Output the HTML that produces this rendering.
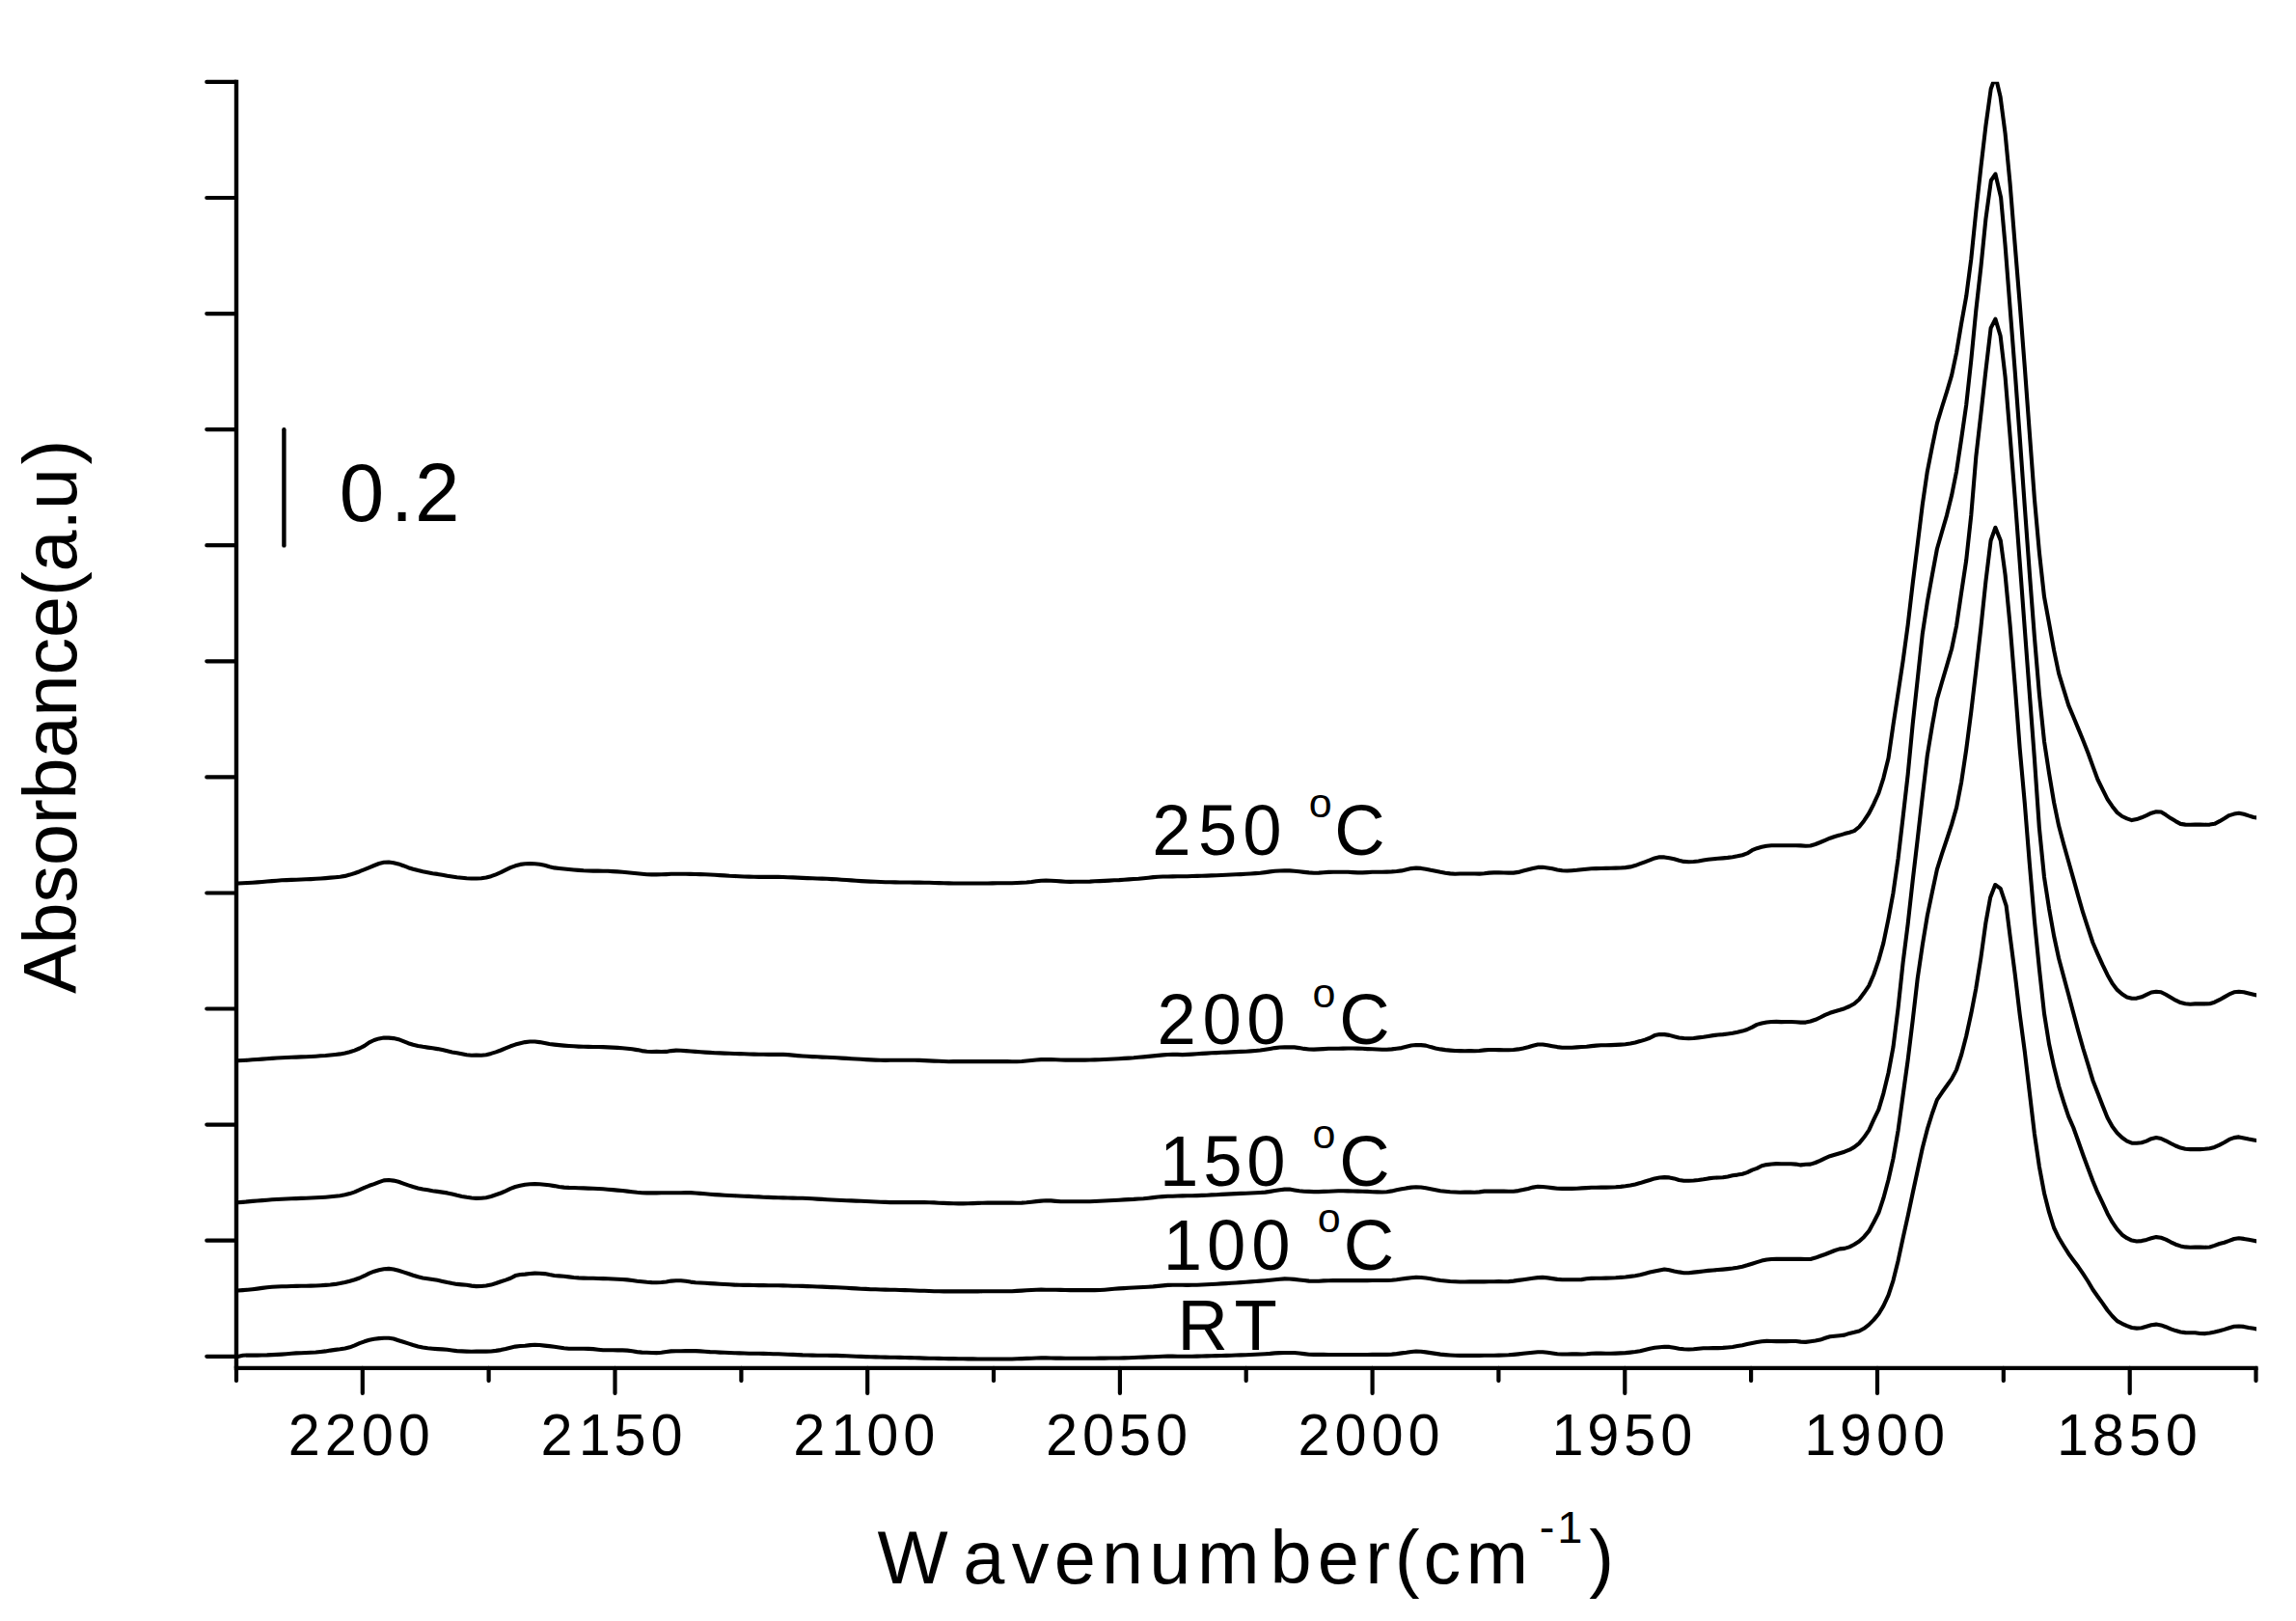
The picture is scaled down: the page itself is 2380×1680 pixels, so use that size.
<!DOCTYPE html>
<html><head><meta charset="utf-8"><title>FTIR spectra</title>
<style>html,body{margin:0;padding:0;background:#fff}svg{display:block}text{font-family:"Liberation Sans",sans-serif;fill:#000}</style>
</head><body>
<svg width="2380" height="1680" viewBox="0 0 2380 1680">
<rect width="2380" height="1680" fill="#fff"/>
<defs><clipPath id="plot"><rect x="245" y="84.8" width="2094" height="1335"/></clipPath></defs>
<g clip-path="url(#plot)" fill="none" stroke="#000" stroke-width="4.1" stroke-linejoin="round" stroke-linecap="butt">
<path d="M246.5 915.5L251.6 915.2L256.6 915.0L261.7 914.7L266.7 914.4L271.8 914.0L276.8 913.5L281.9 913.1L286.9 912.7L292.0 912.3L297.0 912.1L302.1 911.9L307.1 911.7L312.1 911.5L317.2 911.3L322.2 911.1L327.3 910.8L332.3 910.5L337.4 910.1L342.4 909.6L347.5 909.2L352.5 908.7L357.6 907.9L362.6 906.6L367.7 905.0L372.7 903.2L377.8 901.2L382.8 899.1L387.8 897.0L392.9 895.0L397.9 893.8L403.0 893.5L408.0 894.2L413.1 895.4L418.1 897.2L423.2 899.2L428.2 900.7L433.3 902.1L438.3 903.3L443.4 904.3L448.4 905.2L453.5 905.9L458.5 906.8L463.6 907.8L468.6 908.5L473.6 909.2L478.7 909.7L483.7 910.2L488.8 910.5L493.8 910.5L498.9 910.2L503.9 909.5L509.0 908.2L514.0 906.3L519.1 904.2L524.1 901.7L529.2 899.2L534.2 897.3L539.3 895.9L544.3 895.2L549.4 895.0L554.4 895.2L559.4 895.7L564.5 896.8L569.5 898.3L574.6 899.4L579.6 900.0L584.7 900.5L589.7 901.0L594.8 901.5L599.8 901.9L604.9 902.3L609.9 902.5L615.0 902.6L620.0 902.6L625.1 902.7L630.1 902.8L635.2 903.1L640.2 903.4L645.2 903.8L650.3 904.2L655.3 904.7L660.4 905.2L665.4 905.7L670.5 906.2L675.5 906.4L680.6 906.4L685.6 906.3L690.7 906.1L695.7 905.8L700.8 905.7L705.8 905.7L710.9 905.8L715.9 905.9L721.0 906.0L726.0 906.1L731.0 906.3L736.1 906.5L741.1 906.8L746.2 907.1L751.2 907.4L756.3 907.8L761.3 908.0L766.4 908.3L771.4 908.5L776.5 908.6L781.5 908.8L786.6 908.9L791.6 908.9L796.7 908.9L801.7 908.9L806.8 908.9L811.8 909.0L816.8 909.2L821.9 909.4L826.9 909.6L832.0 909.9L837.0 910.1L842.1 910.3L847.1 910.5L852.2 910.6L857.2 910.8L862.3 911.1L867.3 911.3L872.4 911.7L877.4 912.0L882.5 912.4L887.5 912.8L892.5 913.1L897.6 913.4L902.6 913.6L907.7 913.8L912.7 914.0L917.8 914.2L922.8 914.3L927.9 914.4L932.9 914.5L938.0 914.5L943.0 914.5L948.1 914.6L953.1 914.6L958.2 914.7L963.2 914.8L968.3 915.0L973.3 915.1L978.3 915.3L983.4 915.4L988.4 915.5L993.5 915.5L998.5 915.5L1003.6 915.5L1008.6 915.5L1013.7 915.5L1018.7 915.5L1023.8 915.5L1028.8 915.4L1033.9 915.3L1038.9 915.3L1044.0 915.3L1049.0 915.2L1054.1 915.0L1059.1 914.8L1064.1 914.5L1069.2 914.0L1074.2 913.3L1079.3 912.8L1084.3 912.6L1089.4 912.7L1094.4 913.0L1099.5 913.4L1104.5 913.8L1109.6 913.9L1114.6 913.8L1119.7 913.7L1124.7 913.7L1129.8 913.6L1134.8 913.3L1139.9 913.1L1144.9 912.9L1149.9 912.6L1155.0 912.3L1160.0 912.1L1165.1 911.7L1170.1 911.4L1175.2 911.0L1180.2 910.7L1185.3 910.2L1190.3 909.7L1195.4 909.1L1200.4 908.7L1205.5 908.5L1210.5 908.5L1215.6 908.4L1220.6 908.3L1225.7 908.3L1230.7 908.2L1235.7 908.0L1240.8 907.9L1245.8 907.7L1250.9 907.6L1255.9 907.4L1261.0 907.2L1266.0 907.0L1271.1 906.8L1276.1 906.5L1281.2 906.3L1286.2 906.1L1291.3 905.8L1296.3 905.5L1301.4 905.1L1306.4 904.7L1311.5 904.1L1316.5 903.4L1321.5 902.8L1326.6 902.5L1331.6 902.3L1336.7 902.4L1341.7 902.7L1346.8 903.3L1351.8 903.9L1356.9 904.4L1361.9 904.7L1367.0 904.6L1372.0 904.2L1377.1 903.9L1382.1 903.8L1387.2 903.8L1392.2 903.7L1397.2 903.8L1402.3 904.1L1407.3 904.4L1412.4 904.4L1417.4 904.1L1422.5 903.7L1427.5 903.7L1432.6 903.7L1437.6 903.6L1442.7 903.4L1447.7 903.0L1452.8 902.4L1457.8 901.3L1462.9 900.1L1467.9 899.6L1473.0 899.9L1478.0 900.7L1483.0 901.8L1488.1 902.8L1493.1 903.8L1498.2 904.7L1503.2 905.4L1508.3 905.7L1513.3 905.5L1518.4 905.5L1523.4 905.5L1528.5 905.5L1533.5 905.6L1538.6 905.3L1543.6 904.6L1548.7 904.4L1553.7 904.4L1558.8 904.5L1563.8 904.6L1568.8 904.6L1573.9 903.9L1578.9 902.6L1584.0 901.3L1589.0 900.0L1594.1 898.9L1599.1 898.8L1604.2 899.5L1609.2 900.3L1614.3 901.4L1619.3 902.3L1624.4 902.5L1629.4 902.2L1634.5 901.8L1639.5 901.2L1644.6 900.7L1649.6 900.3L1654.6 900.1L1659.7 900.0L1664.7 899.9L1669.8 899.8L1674.8 899.6L1679.9 899.5L1684.9 899.1L1690.0 898.4L1695.0 897.1L1700.1 895.2L1705.1 893.3L1710.2 891.4L1715.2 889.4L1720.3 888.2L1725.3 888.4L1730.4 889.3L1735.4 890.3L1740.4 891.7L1745.5 892.9L1750.5 893.2L1755.6 893.0L1760.6 892.5L1765.7 891.6L1770.7 890.8L1775.8 890.2L1780.8 889.8L1785.9 889.4L1790.9 888.9L1796.0 888.2L1801.0 887.3L1806.1 886.2L1811.1 884.4L1816.2 881.2L1821.2 879.2L1826.2 877.8L1831.3 876.7L1836.3 876.2L1841.4 876.3L1846.4 876.3L1851.5 876.2L1856.5 876.2L1861.6 876.3L1866.6 876.4L1871.7 876.7L1876.7 876.5L1881.8 875.0L1886.8 873.0L1891.9 870.8L1896.9 868.7L1901.9 867.0L1907.0 865.6L1912.0 864.1L1917.1 862.7L1922.1 861.1L1927.2 857.0L1932.2 850.7L1937.3 843.0L1942.3 833.2L1947.4 822.0L1952.4 806.3L1957.5 785.8L1962.5 751.3L1967.6 718.0L1972.6 685.0L1977.7 647.5L1982.7 604.8L1987.7 564.4L1992.8 523.1L1997.8 488.8L2002.9 462.9L2007.9 438.8L2013.0 422.0L2018.0 406.2L2023.1 388.9L2028.1 365.3L2033.2 334.9L2038.2 307.2L2043.3 268.2L2048.3 219.4L2053.4 173.2L2058.4 130.4L2063.7 92.2L2068.5 78.9L2073.6 100.4L2078.6 138.5L2083.6 190.6L2088.7 253.9L2093.7 315.0L2098.8 380.4L2103.8 448.4L2108.9 516.9L2113.9 572.4L2119.0 618.4L2124.0 645.6L2129.1 673.9L2134.1 697.9L2139.2 714.6L2144.2 730.9L2149.3 743.0L2154.3 755.1L2159.3 767.2L2164.4 780.3L2169.4 794.1L2174.5 808.0L2179.5 818.2L2184.6 828.3L2189.6 835.7L2194.7 842.1L2199.7 846.0L2204.8 848.4L2209.8 850.1L2214.9 849.1L2219.9 847.3L2225.0 845.1L2230.0 842.7L2235.1 841.2L2240.1 841.5L2245.1 844.6L2250.2 848.1L2255.2 851.1L2260.3 853.9L2265.3 854.6L2270.4 854.7L2275.4 854.6L2280.5 854.6L2285.5 854.7L2290.6 854.6L2295.6 853.8L2300.7 851.2L2305.7 848.3L2310.8 845.1L2315.8 843.6L2320.8 842.7L2325.9 843.7L2330.9 845.4L2336.0 847.0L2340.3 847.6"/>
<path d="M246.5 1099.3L251.6 1099.0L256.6 1098.7L261.7 1098.3L266.7 1098.0L271.8 1097.6L276.8 1097.3L281.9 1096.9L286.9 1096.5L292.0 1096.2L297.0 1096.0L302.1 1095.8L307.1 1095.6L312.1 1095.4L317.2 1095.2L322.2 1095.0L327.3 1094.7L332.3 1094.3L337.4 1094.0L342.4 1093.5L347.5 1093.0L352.5 1092.4L357.6 1091.5L362.6 1090.3L367.7 1088.6L372.7 1086.5L377.8 1083.9L382.8 1080.3L387.8 1078.0L392.9 1076.4L397.9 1075.6L403.0 1075.6L408.0 1076.1L413.1 1077.2L418.1 1079.1L423.2 1081.2L428.2 1082.8L433.3 1083.9L438.3 1084.8L443.4 1085.6L448.4 1086.3L453.5 1087.1L458.5 1088.1L463.6 1089.3L468.6 1090.4L473.6 1091.2L478.7 1092.2L483.7 1093.3L488.8 1093.7L493.8 1093.6L498.9 1093.8L503.9 1093.2L509.0 1091.9L514.0 1090.4L519.1 1088.5L524.1 1086.4L529.2 1084.3L534.2 1082.6L539.3 1081.2L544.3 1080.1L549.4 1079.5L554.4 1079.5L559.4 1080.1L564.5 1081.1L569.5 1082.0L574.6 1082.6L579.6 1083.1L584.7 1083.6L589.7 1084.0L594.8 1084.3L599.8 1084.6L604.9 1084.8L609.9 1084.9L615.0 1085.0L620.0 1085.0L625.1 1085.1L630.1 1085.4L635.2 1085.6L640.2 1085.9L645.2 1086.3L650.3 1086.7L655.3 1087.3L660.4 1088.1L665.4 1089.1L670.5 1089.8L675.5 1090.0L680.6 1089.9L685.6 1090.0L690.7 1089.9L695.7 1089.1L700.8 1088.6L705.8 1088.8L710.9 1089.1L715.9 1089.5L721.0 1089.9L726.0 1090.2L731.0 1090.6L736.1 1090.9L741.1 1091.2L746.2 1091.4L751.2 1091.6L756.3 1091.8L761.3 1092.0L766.4 1092.1L771.4 1092.3L776.5 1092.5L781.5 1092.6L786.6 1092.7L791.6 1092.8L796.7 1092.9L801.7 1092.9L806.8 1092.9L811.8 1092.9L816.8 1093.1L821.9 1093.6L826.9 1094.1L832.0 1094.5L837.0 1094.8L842.1 1095.1L847.1 1095.3L852.2 1095.6L857.2 1095.8L862.3 1096.0L867.3 1096.3L872.4 1096.6L877.4 1096.9L882.5 1097.2L887.5 1097.5L892.5 1097.8L897.6 1098.1L902.6 1098.4L907.7 1098.6L912.7 1098.8L917.8 1098.9L922.8 1098.8L927.9 1098.8L932.9 1098.8L938.0 1098.8L943.0 1098.8L948.1 1098.8L953.1 1098.9L958.2 1099.1L963.2 1099.4L968.3 1099.6L973.3 1099.8L978.3 1100.0L983.4 1100.2L988.4 1100.1L993.5 1100.1L998.5 1100.1L1003.6 1100.1L1008.6 1100.1L1013.7 1100.1L1018.7 1100.1L1023.8 1100.1L1028.8 1100.1L1033.9 1100.1L1038.9 1100.1L1044.0 1100.1L1049.0 1100.2L1054.1 1100.2L1059.1 1100.0L1064.1 1099.5L1069.2 1099.0L1074.2 1098.5L1079.3 1098.1L1084.3 1098.0L1089.4 1098.1L1094.4 1098.3L1099.5 1098.5L1104.5 1098.6L1109.6 1098.6L1114.6 1098.6L1119.7 1098.6L1124.7 1098.6L1129.8 1098.5L1134.8 1098.4L1139.9 1098.2L1144.9 1098.0L1149.9 1097.7L1155.0 1097.5L1160.0 1097.2L1165.1 1096.9L1170.1 1096.6L1175.2 1096.3L1180.2 1095.8L1185.3 1095.4L1190.3 1094.9L1195.4 1094.4L1200.4 1093.9L1205.5 1093.4L1210.5 1093.0L1215.6 1092.8L1220.6 1092.9L1225.7 1093.1L1230.7 1092.9L1235.7 1092.6L1240.8 1092.2L1245.8 1091.9L1250.9 1091.6L1255.9 1091.3L1261.0 1091.1L1266.0 1090.8L1271.1 1090.6L1276.1 1090.4L1281.2 1090.1L1286.2 1089.9L1291.3 1089.7L1296.3 1089.4L1301.4 1089.0L1306.4 1088.5L1311.5 1087.7L1316.5 1086.9L1321.5 1086.1L1326.6 1085.5L1331.6 1085.4L1336.7 1085.4L1341.7 1085.4L1346.8 1086.1L1351.8 1086.9L1356.9 1087.5L1361.9 1087.6L1367.0 1087.4L1372.0 1087.1L1377.1 1086.8L1382.1 1086.7L1387.2 1086.7L1392.2 1086.6L1397.2 1086.5L1402.3 1086.5L1407.3 1086.6L1412.4 1086.8L1417.4 1087.1L1422.5 1087.3L1427.5 1087.5L1432.6 1087.8L1437.6 1087.8L1442.7 1087.4L1447.7 1086.8L1452.8 1086.1L1457.8 1084.8L1462.9 1083.5L1467.9 1083.0L1473.0 1083.1L1478.0 1083.6L1483.0 1085.1L1488.1 1086.5L1493.1 1087.4L1498.2 1088.1L1503.2 1088.6L1508.3 1089.0L1513.3 1089.1L1518.4 1089.2L1523.4 1089.1L1528.5 1089.2L1533.5 1089.0L1538.6 1088.4L1543.6 1088.0L1548.7 1088.0L1553.7 1088.1L1558.8 1088.2L1563.8 1088.2L1568.8 1088.0L1573.9 1087.4L1578.9 1086.5L1584.0 1085.3L1589.0 1083.7L1594.1 1082.5L1599.1 1082.5L1604.2 1083.3L1609.2 1084.2L1614.3 1085.1L1619.3 1085.7L1624.4 1085.8L1629.4 1085.7L1634.5 1085.4L1639.5 1085.0L1644.6 1084.7L1649.6 1084.1L1654.6 1083.6L1659.7 1083.3L1664.7 1083.3L1669.8 1083.1L1674.8 1082.9L1679.9 1082.6L1684.9 1082.2L1690.0 1081.5L1695.0 1080.5L1700.1 1079.1L1705.1 1077.6L1710.2 1075.8L1715.2 1073.1L1720.3 1072.0L1725.3 1072.1L1730.4 1072.9L1735.4 1074.3L1740.4 1075.5L1745.5 1076.0L1750.5 1076.2L1755.6 1076.0L1760.6 1075.4L1765.7 1074.7L1770.7 1073.9L1775.8 1073.1L1780.8 1072.5L1785.9 1072.1L1790.9 1071.5L1796.0 1070.8L1801.0 1069.8L1806.1 1068.6L1811.1 1067.0L1816.2 1064.6L1821.2 1061.9L1826.2 1060.5L1831.3 1059.5L1836.3 1059.0L1841.4 1058.9L1846.4 1059.1L1851.5 1059.0L1856.5 1059.0L1861.6 1059.2L1866.6 1059.6L1871.7 1059.6L1876.7 1058.5L1881.8 1056.8L1886.8 1054.5L1891.9 1051.9L1896.9 1049.8L1901.9 1048.2L1907.0 1046.8L1912.0 1045.2L1917.1 1043.0L1922.1 1040.2L1927.2 1035.8L1932.2 1029.1L1937.3 1021.6L1942.3 1010.0L1947.4 995.1L1952.4 977.1L1957.5 952.4L1962.5 925.3L1967.6 889.6L1972.6 847.0L1977.7 802.6L1982.7 750.4L1987.7 704.4L1992.8 656.9L1997.8 624.2L2002.9 595.8L2007.9 569.0L2013.0 551.3L2018.0 534.1L2023.1 513.3L2028.1 488.3L2033.2 454.4L2038.2 419.8L2043.3 373.1L2048.3 321.8L2053.4 276.8L2058.4 227.0L2063.9 187.0L2068.4 180.3L2074.1 204.6L2078.6 254.6L2083.6 319.3L2088.7 384.8L2093.7 453.2L2098.8 524.9L2103.8 593.7L2108.9 660.1L2113.9 719.3L2119.0 768.2L2124.0 801.0L2129.1 831.7L2134.1 855.8L2139.2 875.0L2144.2 892.7L2149.3 910.9L2154.3 928.9L2159.3 946.2L2164.4 961.9L2169.4 977.0L2174.5 988.9L2179.5 999.9L2184.6 1010.4L2189.6 1019.2L2194.7 1025.9L2199.7 1030.3L2204.8 1033.5L2209.8 1034.8L2214.9 1034.6L2219.9 1033.3L2225.0 1030.9L2230.0 1028.5L2235.1 1027.7L2240.1 1028.2L2245.1 1030.8L2250.2 1033.8L2255.2 1036.7L2260.3 1039.1L2265.3 1040.3L2270.4 1040.7L2275.4 1040.4L2280.5 1040.3L2285.5 1040.4L2290.6 1040.2L2295.6 1038.7L2300.7 1036.2L2305.7 1033.4L2310.8 1030.4L2315.8 1028.3L2320.8 1027.7L2325.9 1028.2L2330.9 1029.4L2336.0 1030.7L2341.0 1031.9L2342.1 1032.1"/>
<path d="M246.5 1246.3L251.6 1245.9L256.6 1245.4L261.7 1244.9L266.7 1244.5L271.8 1244.1L276.8 1243.7L281.9 1243.3L286.9 1243.0L292.0 1242.7L297.0 1242.5L302.1 1242.3L307.1 1242.1L312.1 1241.9L317.2 1241.7L322.2 1241.5L327.3 1241.2L332.3 1241.0L337.4 1240.7L342.4 1240.3L347.5 1239.8L352.5 1239.2L357.6 1238.3L362.6 1237.1L367.7 1235.4L372.7 1233.2L377.8 1230.8L382.8 1228.8L387.8 1227.1L392.9 1225.1L397.9 1223.4L403.0 1223.0L408.0 1223.6L413.1 1224.8L418.1 1226.6L423.2 1228.4L428.2 1230.0L433.3 1231.4L438.3 1232.5L443.4 1233.3L448.4 1234.2L453.5 1234.9L458.5 1235.6L463.6 1236.4L468.6 1237.5L473.6 1238.8L478.7 1239.9L483.7 1240.8L488.8 1241.5L493.8 1241.9L498.9 1241.8L503.9 1241.2L509.0 1240.0L514.0 1238.3L519.1 1236.5L524.1 1234.3L529.2 1231.9L534.2 1230.0L539.3 1228.7L544.3 1227.7L549.4 1227.2L554.4 1227.1L559.4 1227.3L564.5 1227.7L569.5 1228.3L574.6 1229.1L579.6 1230.0L584.7 1230.6L589.7 1230.9L594.8 1231.0L599.8 1231.2L604.9 1231.4L609.9 1231.6L615.0 1231.7L620.0 1232.0L625.1 1232.3L630.1 1232.7L635.2 1233.1L640.2 1233.6L645.2 1234.0L650.3 1234.6L655.3 1235.2L660.4 1235.8L665.4 1236.2L670.5 1236.4L675.5 1236.4L680.6 1236.4L685.6 1236.3L690.7 1236.3L695.7 1236.3L700.8 1236.2L705.8 1236.2L710.9 1236.1L715.9 1236.1L721.0 1236.5L726.0 1236.9L731.0 1237.3L736.1 1237.7L741.1 1238.1L746.2 1238.4L751.2 1238.7L756.3 1239.0L761.3 1239.2L766.4 1239.5L771.4 1239.7L776.5 1239.9L781.5 1240.2L786.6 1240.4L791.6 1240.7L796.7 1240.9L801.7 1241.1L806.8 1241.2L811.8 1241.4L816.8 1241.5L821.9 1241.6L826.9 1241.7L832.0 1241.8L837.0 1242.0L842.1 1242.3L847.1 1242.6L852.2 1242.9L857.2 1243.2L862.3 1243.5L867.3 1243.8L872.4 1244.0L877.4 1244.2L882.5 1244.4L887.5 1244.6L892.5 1244.8L897.6 1245.0L902.6 1245.2L907.7 1245.5L912.7 1245.7L917.8 1245.9L922.8 1246.1L927.9 1246.1L932.9 1246.1L938.0 1246.1L943.0 1246.1L948.1 1246.1L953.1 1246.0L958.2 1246.1L963.2 1246.2L968.3 1246.4L973.3 1246.7L978.3 1246.9L983.4 1247.1L988.4 1247.2L993.5 1247.4L998.5 1247.4L1003.6 1247.3L1008.6 1247.1L1013.7 1246.9L1018.7 1246.7L1023.8 1246.6L1028.8 1246.6L1033.9 1246.6L1038.9 1246.6L1044.0 1246.6L1049.0 1246.6L1054.1 1246.7L1059.1 1246.6L1064.1 1246.3L1069.2 1245.7L1074.2 1245.1L1079.3 1244.6L1084.3 1244.3L1089.4 1244.4L1094.4 1244.9L1099.5 1245.3L1104.5 1245.3L1109.6 1245.3L1114.6 1245.3L1119.7 1245.3L1124.7 1245.3L1129.8 1245.2L1134.8 1245.0L1139.9 1244.8L1144.9 1244.5L1149.9 1244.3L1155.0 1244.0L1160.0 1243.7L1165.1 1243.4L1170.1 1243.1L1175.2 1242.9L1180.2 1242.5L1185.3 1242.2L1190.3 1241.7L1195.4 1241.1L1200.4 1240.5L1205.5 1240.1L1210.5 1239.8L1215.6 1239.7L1220.6 1239.5L1225.7 1239.4L1230.7 1239.3L1235.7 1239.2L1240.8 1239.1L1245.8 1238.9L1250.9 1238.7L1255.9 1238.4L1261.0 1238.2L1266.0 1237.9L1271.1 1237.6L1276.1 1237.4L1281.2 1237.1L1286.2 1236.9L1291.3 1236.7L1296.3 1236.5L1301.4 1236.3L1306.4 1236.0L1311.5 1235.6L1316.5 1234.9L1321.5 1234.1L1326.6 1233.2L1331.6 1232.6L1336.7 1232.6L1341.7 1233.4L1346.8 1234.2L1351.8 1234.7L1356.9 1234.9L1361.9 1235.1L1367.0 1235.1L1372.0 1234.9L1377.1 1234.7L1382.1 1234.5L1387.2 1234.3L1392.2 1234.3L1397.2 1234.4L1402.3 1234.5L1407.3 1234.6L1412.4 1234.8L1417.4 1234.9L1422.5 1235.2L1427.5 1235.4L1432.6 1235.5L1437.6 1235.2L1442.7 1234.4L1447.7 1233.3L1452.8 1232.3L1457.8 1231.4L1462.9 1230.6L1467.9 1230.3L1473.0 1230.5L1478.0 1231.3L1483.0 1232.3L1488.1 1233.3L1493.1 1234.2L1498.2 1234.7L1503.2 1235.2L1508.3 1235.5L1513.3 1235.7L1518.4 1235.6L1523.4 1235.6L1528.5 1235.7L1533.5 1235.4L1538.6 1234.6L1543.6 1234.5L1548.7 1234.6L1553.7 1234.6L1558.8 1234.6L1563.8 1234.7L1568.8 1234.7L1573.9 1234.1L1578.9 1233.1L1584.0 1231.9L1589.0 1230.6L1594.1 1229.8L1599.1 1230.0L1604.2 1230.5L1609.2 1231.1L1614.3 1231.8L1619.3 1231.9L1624.4 1231.8L1629.4 1231.9L1634.5 1231.8L1639.5 1231.4L1644.6 1231.1L1649.6 1230.8L1654.6 1230.7L1659.7 1230.6L1664.7 1230.6L1669.8 1230.5L1674.8 1230.3L1679.9 1229.9L1684.9 1229.3L1690.0 1228.5L1695.0 1227.4L1700.1 1226.1L1705.1 1224.5L1710.2 1223.0L1715.2 1221.4L1720.3 1220.5L1725.3 1220.1L1730.4 1220.4L1735.4 1221.4L1740.4 1223.0L1745.5 1223.8L1750.5 1223.8L1755.6 1223.5L1760.6 1223.0L1765.7 1222.3L1770.7 1221.4L1775.8 1220.7L1780.8 1220.5L1785.9 1220.3L1790.9 1219.4L1796.0 1218.3L1801.0 1217.6L1806.1 1216.7L1811.1 1215.1L1816.2 1212.6L1821.2 1210.9L1826.2 1208.3L1831.3 1207.1L1836.3 1206.5L1841.4 1206.1L1846.4 1206.2L1851.5 1206.2L1856.5 1206.2L1861.6 1206.6L1866.6 1207.4L1871.7 1206.7L1876.7 1206.6L1881.8 1205.0L1886.8 1202.8L1891.9 1200.3L1896.9 1198.2L1901.9 1196.7L1907.0 1195.2L1912.0 1193.7L1917.1 1191.7L1922.1 1188.9L1927.2 1184.9L1932.2 1178.8L1937.3 1171.4L1942.3 1160.4L1947.4 1149.8L1952.4 1133.1L1957.5 1112.0L1962.5 1085.2L1967.6 1044.5L1972.6 997.6L1977.7 957.5L1982.7 912.5L1987.7 869.9L1992.8 825.2L1997.8 783.0L2002.9 752.2L2007.9 724.7L2013.0 707.0L2018.0 690.2L2023.1 672.5L2028.1 648.3L2033.2 613.7L2038.2 580.6L2043.3 533.7L2048.3 473.6L2053.4 429.1L2058.4 384.3L2063.6 340.2L2068.4 330.6L2073.6 348.0L2078.6 390.7L2083.6 451.8L2088.7 516.4L2093.7 582.8L2098.8 651.6L2103.8 718.7L2108.9 786.1L2113.9 858.3L2119.0 909.0L2124.0 941.3L2129.1 970.0L2134.1 993.2L2139.2 1012.3L2144.2 1030.8L2149.3 1050.0L2154.3 1068.8L2159.3 1086.5L2164.4 1103.1L2169.4 1119.7L2174.5 1132.7L2179.5 1145.7L2184.6 1158.4L2189.6 1167.6L2194.7 1174.3L2199.7 1179.0L2204.8 1182.6L2209.8 1184.6L2214.9 1184.7L2219.9 1184.2L2225.0 1182.6L2230.0 1180.2L2235.1 1179.1L2240.1 1180.0L2245.1 1182.3L2250.2 1185.0L2255.2 1187.5L2260.3 1189.6L2265.3 1190.8L2270.4 1191.1L2275.4 1191.0L2280.5 1191.1L2285.5 1190.8L2290.6 1190.2L2295.6 1188.9L2300.7 1186.6L2305.7 1184.0L2310.8 1180.9L2315.8 1179.1L2320.8 1178.4L2325.9 1179.5L2330.9 1180.6L2336.0 1181.5L2341.0 1182.3L2342.1 1182.5"/>
<path d="M246.5 1337.5L251.6 1337.1L256.6 1336.7L261.7 1336.2L266.7 1335.6L271.8 1334.9L276.8 1334.2L281.9 1333.8L286.9 1333.5L292.0 1333.3L297.0 1333.2L302.1 1333.0L307.1 1332.9L312.1 1332.8L317.2 1332.7L322.2 1332.6L327.3 1332.5L332.3 1332.2L337.4 1331.9L342.4 1331.5L347.5 1330.9L352.5 1330.1L357.6 1329.0L362.6 1327.7L367.7 1326.2L372.7 1324.5L377.8 1322.2L382.8 1319.6L387.8 1317.7L392.9 1316.3L397.9 1315.3L403.0 1314.9L408.0 1315.5L413.1 1316.8L418.1 1318.4L423.2 1320.0L428.2 1321.7L433.3 1323.3L438.3 1324.5L443.4 1325.3L448.4 1326.0L453.5 1326.8L458.5 1327.9L463.6 1329.1L468.6 1330.1L473.6 1330.9L478.7 1331.4L483.7 1331.8L488.8 1332.6L493.8 1333.1L498.9 1333.0L503.9 1332.5L509.0 1331.6L514.0 1330.0L519.1 1328.2L524.1 1326.6L529.2 1324.8L534.2 1322.1L539.3 1321.0L544.3 1320.6L549.4 1320.0L554.4 1319.6L559.4 1319.7L564.5 1320.1L569.5 1321.1L574.6 1322.0L579.6 1322.4L584.7 1322.7L589.7 1323.4L594.8 1324.0L599.8 1324.4L604.9 1324.6L609.9 1324.7L615.0 1324.8L620.0 1325.0L625.1 1325.1L630.1 1325.3L635.2 1325.5L640.2 1325.7L645.2 1326.0L650.3 1326.4L655.3 1327.0L660.4 1327.7L665.4 1328.2L670.5 1328.8L675.5 1329.1L680.6 1329.2L685.6 1329.0L690.7 1328.5L695.7 1327.6L700.8 1327.3L705.8 1327.3L710.9 1327.8L715.9 1328.6L721.0 1329.2L726.0 1329.5L731.0 1329.8L736.1 1330.1L741.1 1330.4L746.2 1330.7L751.2 1331.0L756.3 1331.3L761.3 1331.6L766.4 1331.8L771.4 1331.9L776.5 1331.9L781.5 1332.0L786.6 1332.1L791.6 1332.1L796.7 1332.2L801.7 1332.2L806.8 1332.3L811.8 1332.4L816.8 1332.5L821.9 1332.7L826.9 1332.8L832.0 1332.9L837.0 1333.1L842.1 1333.3L847.1 1333.5L852.2 1333.6L857.2 1333.9L862.3 1334.1L867.3 1334.3L872.4 1334.5L877.4 1334.8L882.5 1335.1L887.5 1335.4L892.5 1335.7L897.6 1335.9L902.6 1336.2L907.7 1336.3L912.7 1336.5L917.8 1336.6L922.8 1336.7L927.9 1336.8L932.9 1337.0L938.0 1337.1L943.0 1337.3L948.1 1337.5L953.1 1337.7L958.2 1337.8L963.2 1338.0L968.3 1338.2L973.3 1338.3L978.3 1338.4L983.4 1338.4L988.4 1338.4L993.5 1338.4L998.5 1338.4L1003.6 1338.4L1008.6 1338.4L1013.7 1338.4L1018.7 1338.3L1023.8 1338.3L1028.8 1338.3L1033.9 1338.2L1038.9 1338.2L1044.0 1338.2L1049.0 1338.2L1054.1 1337.9L1059.1 1337.6L1064.1 1337.3L1069.2 1337.0L1074.2 1336.7L1079.3 1336.6L1084.3 1336.7L1089.4 1336.8L1094.4 1336.8L1099.5 1336.9L1104.5 1337.0L1109.6 1337.1L1114.6 1337.1L1119.7 1337.1L1124.7 1337.1L1129.8 1337.1L1134.8 1337.1L1139.9 1337.0L1144.9 1336.7L1149.9 1336.3L1155.0 1335.8L1160.0 1335.4L1165.1 1335.1L1170.1 1334.8L1175.2 1334.5L1180.2 1334.3L1185.3 1334.0L1190.3 1333.7L1195.4 1333.4L1200.4 1332.9L1205.5 1332.4L1210.5 1331.9L1215.6 1331.7L1220.6 1331.8L1225.7 1331.8L1230.7 1331.9L1235.7 1331.8L1240.8 1331.7L1245.8 1331.5L1250.9 1331.3L1255.9 1331.0L1261.0 1330.7L1266.0 1330.4L1271.1 1330.1L1276.1 1329.8L1281.2 1329.5L1286.2 1329.1L1291.3 1328.8L1296.3 1328.4L1301.4 1328.0L1306.4 1327.6L1311.5 1327.2L1316.5 1326.7L1321.5 1326.2L1326.6 1325.7L1331.6 1325.4L1336.7 1325.5L1341.7 1325.9L1346.8 1326.5L1351.8 1327.0L1356.9 1327.6L1361.9 1327.8L1367.0 1327.7L1372.0 1327.4L1377.1 1327.2L1382.1 1327.1L1387.2 1327.1L1392.2 1327.1L1397.2 1327.1L1402.3 1327.1L1407.3 1327.1L1412.4 1327.1L1417.4 1327.1L1422.5 1327.0L1427.5 1327.0L1432.6 1327.0L1437.6 1327.0L1442.7 1326.7L1447.7 1326.2L1452.8 1325.5L1457.8 1324.9L1462.9 1324.3L1467.9 1323.9L1473.0 1324.0L1478.0 1324.5L1483.0 1325.2L1488.1 1326.2L1493.1 1327.0L1498.2 1327.5L1503.2 1328.0L1508.3 1328.3L1513.3 1328.5L1518.4 1328.5L1523.4 1328.4L1528.5 1328.4L1533.5 1328.4L1538.6 1328.4L1543.6 1328.3L1548.7 1328.2L1553.7 1328.1L1558.8 1328.2L1563.8 1328.1L1568.8 1327.6L1573.9 1326.9L1578.9 1326.2L1584.0 1325.5L1589.0 1324.8L1594.1 1324.1L1599.1 1323.9L1604.2 1324.4L1609.2 1325.1L1614.3 1325.9L1619.3 1326.3L1624.4 1326.3L1629.4 1326.2L1634.5 1326.3L1639.5 1326.1L1644.6 1325.3L1649.6 1324.9L1654.6 1324.7L1659.7 1324.7L1664.7 1324.6L1669.8 1324.5L1674.8 1324.3L1679.9 1323.9L1684.9 1323.5L1690.0 1322.9L1695.0 1322.3L1700.1 1321.3L1705.1 1320.0L1710.2 1318.6L1715.2 1317.6L1720.3 1316.5L1725.3 1315.5L1730.4 1316.2L1735.4 1317.4L1740.4 1318.4L1745.5 1319.2L1750.5 1319.2L1755.6 1318.6L1760.6 1318.1L1765.7 1317.5L1770.7 1316.9L1775.8 1316.5L1780.8 1316.0L1785.9 1315.6L1790.9 1315.1L1796.0 1314.5L1801.0 1313.7L1806.1 1312.7L1811.1 1311.3L1816.2 1309.7L1821.2 1308.1L1826.2 1306.6L1831.3 1305.5L1836.3 1305.0L1841.4 1304.8L1846.4 1304.9L1851.5 1304.9L1856.5 1304.9L1861.6 1304.9L1866.6 1304.9L1871.7 1305.0L1876.7 1305.0L1881.8 1303.6L1886.8 1301.8L1891.9 1300.0L1896.9 1298.0L1901.9 1296.0L1907.0 1294.4L1912.0 1293.9L1917.1 1292.4L1922.1 1289.8L1927.2 1286.6L1932.2 1281.9L1937.3 1275.9L1942.3 1266.7L1947.4 1256.8L1952.4 1241.7L1957.5 1222.7L1962.5 1200.6L1967.6 1171.3L1972.6 1135.1L1977.7 1098.4L1982.7 1057.4L1987.7 1014.3L1992.8 979.5L1997.8 949.2L2002.9 924.6L2007.9 901.1L2013.0 884.9L2018.0 870.0L2023.1 854.4L2028.1 836.9L2033.2 810.3L2038.2 776.9L2043.3 737.6L2048.3 694.9L2053.4 650.3L2058.4 602.6L2063.6 560.3L2068.4 546.8L2073.8 560.3L2078.6 595.8L2083.6 648.3L2088.7 710.4L2093.7 775.8L2098.8 832.4L2103.8 894.8L2108.9 954.1L2113.9 1004.0L2119.0 1050.4L2124.0 1081.8L2129.1 1105.6L2134.1 1125.6L2139.2 1142.1L2144.2 1157.1L2149.3 1168.8L2154.3 1182.7L2159.3 1197.0L2164.4 1210.8L2169.4 1224.0L2174.5 1236.2L2179.5 1246.7L2184.6 1257.7L2189.6 1266.7L2194.7 1274.2L2199.7 1279.7L2204.8 1283.2L2209.8 1285.6L2214.9 1286.5L2219.9 1286.1L2225.0 1284.9L2230.0 1283.3L2235.1 1282.1L2240.1 1282.8L2245.1 1284.6L2250.2 1287.3L2255.2 1289.7L2260.3 1291.4L2265.3 1292.4L2270.4 1292.7L2275.4 1292.6L2280.5 1292.6L2285.5 1292.8L2290.6 1292.5L2295.6 1290.9L2300.7 1289.0L2305.7 1287.7L2310.8 1285.9L2315.8 1284.0L2320.8 1283.2L2325.9 1283.9L2330.9 1284.8L2336.0 1285.8L2340.8 1286.8"/>
<path d="M246.5 1405.9L251.6 1404.8L256.6 1404.5L261.7 1404.6L266.7 1404.6L271.8 1404.5L276.8 1404.4L281.9 1404.1L286.9 1403.9L292.0 1403.6L297.0 1403.2L302.1 1402.8L307.1 1402.4L312.1 1402.2L317.2 1402.0L322.2 1401.8L327.3 1401.5L332.3 1401.0L337.4 1400.4L342.4 1399.6L347.5 1398.9L352.5 1398.3L357.6 1397.5L362.6 1396.3L367.7 1394.4L372.7 1392.2L377.8 1390.3L382.8 1388.7L387.8 1387.7L392.9 1387.1L397.9 1386.7L403.0 1386.7L408.0 1387.5L413.1 1389.2L418.1 1390.8L423.2 1392.4L428.2 1394.0L433.3 1395.4L438.3 1396.5L443.4 1397.2L448.4 1397.7L453.5 1398.1L458.5 1398.4L463.6 1398.8L468.6 1399.5L473.6 1400.1L478.7 1400.4L483.7 1400.6L488.8 1400.7L493.8 1400.6L498.9 1400.5L503.9 1400.6L509.0 1400.5L514.0 1399.9L519.1 1399.1L524.1 1398.0L529.2 1396.7L534.2 1395.6L539.3 1395.0L544.3 1394.8L549.4 1394.1L554.4 1393.7L559.4 1394.0L564.5 1394.6L569.5 1395.1L574.6 1395.8L579.6 1396.5L584.7 1397.2L589.7 1397.7L594.8 1397.8L599.8 1397.8L604.9 1397.8L609.9 1397.9L615.0 1398.1L620.0 1398.7L625.1 1399.2L630.1 1399.3L635.2 1399.3L640.2 1399.4L645.2 1399.4L650.3 1399.6L655.3 1400.3L660.4 1401.1L665.4 1401.6L670.5 1401.8L675.5 1402.0L680.6 1402.1L685.6 1401.8L690.7 1401.0L695.7 1400.4L700.8 1400.2L705.8 1400.2L710.9 1400.1L715.9 1400.0L721.0 1400.1L726.0 1400.4L731.0 1400.7L736.1 1401.1L741.1 1401.3L746.2 1401.6L751.2 1401.8L756.3 1402.0L761.3 1402.2L766.4 1402.4L771.4 1402.5L776.5 1402.7L781.5 1402.8L786.6 1402.8L791.6 1402.9L796.7 1403.0L801.7 1403.2L806.8 1403.3L811.8 1403.5L816.8 1403.7L821.9 1403.9L826.9 1404.1L832.0 1404.4L837.0 1404.5L842.1 1404.6L847.1 1404.7L852.2 1404.8L857.2 1404.8L862.3 1404.9L867.3 1404.9L872.4 1405.1L877.4 1405.2L882.5 1405.5L887.5 1405.7L892.5 1405.9L897.6 1406.1L902.6 1406.3L907.7 1406.4L912.7 1406.5L917.8 1406.6L922.8 1406.7L927.9 1406.8L932.9 1406.9L938.0 1407.0L943.0 1407.1L948.1 1407.3L953.1 1407.4L958.2 1407.6L963.2 1407.7L968.3 1407.8L973.3 1407.9L978.3 1408.0L983.4 1408.1L988.4 1408.1L993.5 1408.2L998.5 1408.3L1003.6 1408.4L1008.6 1408.4L1013.7 1408.5L1018.7 1408.5L1023.8 1408.5L1028.8 1408.5L1033.9 1408.5L1038.9 1408.5L1044.0 1408.5L1049.0 1408.5L1054.1 1408.3L1059.1 1408.1L1064.1 1407.9L1069.2 1407.7L1074.2 1407.5L1079.3 1407.4L1084.3 1407.4L1089.4 1407.5L1094.4 1407.6L1099.5 1407.6L1104.5 1407.7L1109.6 1407.7L1114.6 1407.8L1119.7 1407.8L1124.7 1407.8L1129.8 1407.7L1134.8 1407.7L1139.9 1407.6L1144.9 1407.6L1149.9 1407.5L1155.0 1407.5L1160.0 1407.5L1165.1 1407.4L1170.1 1407.2L1175.2 1407.0L1180.2 1406.8L1185.3 1406.6L1190.3 1406.4L1195.4 1406.2L1200.4 1406.0L1205.5 1405.7L1210.5 1405.6L1215.6 1405.6L1220.6 1405.7L1225.7 1405.7L1230.7 1405.7L1235.7 1405.7L1240.8 1405.6L1245.8 1405.5L1250.9 1405.4L1255.9 1405.3L1261.0 1405.1L1266.0 1405.0L1271.1 1404.9L1276.1 1404.7L1281.2 1404.5L1286.2 1404.4L1291.3 1404.2L1296.3 1404.0L1301.4 1403.8L1306.4 1403.5L1311.5 1403.2L1316.5 1402.9L1321.5 1402.4L1326.6 1402.1L1331.6 1402.0L1336.7 1402.0L1341.7 1402.0L1346.8 1402.5L1351.8 1403.1L1356.9 1403.7L1361.9 1403.9L1367.0 1403.9L1372.0 1403.9L1377.1 1404.0L1382.1 1404.0L1387.2 1404.0L1392.2 1404.0L1397.2 1404.0L1402.3 1404.0L1407.3 1404.0L1412.4 1404.0L1417.4 1404.0L1422.5 1403.9L1427.5 1403.9L1432.6 1403.9L1437.6 1403.9L1442.7 1403.6L1447.7 1403.1L1452.8 1402.4L1457.8 1401.8L1462.9 1401.0L1467.9 1400.5L1473.0 1400.7L1478.0 1401.4L1483.0 1402.1L1488.1 1402.9L1493.1 1403.6L1498.2 1404.1L1503.2 1404.5L1508.3 1404.8L1513.3 1404.9L1518.4 1404.9L1523.4 1404.9L1528.5 1404.9L1533.5 1404.9L1538.6 1404.8L1543.6 1404.8L1548.7 1404.7L1553.7 1404.6L1558.8 1404.5L1563.8 1404.3L1568.8 1403.9L1573.9 1403.4L1578.9 1402.8L1584.0 1402.3L1589.0 1401.8L1594.1 1401.2L1599.1 1401.3L1604.2 1401.8L1609.2 1402.5L1614.3 1403.2L1619.3 1403.5L1624.4 1403.5L1629.4 1403.4L1634.5 1403.4L1639.5 1403.5L1644.6 1403.2L1649.6 1402.7L1654.6 1402.6L1659.7 1402.6L1664.7 1402.7L1669.8 1402.7L1674.8 1402.6L1679.9 1402.4L1684.9 1402.1L1690.0 1401.6L1695.0 1401.0L1700.1 1400.2L1705.1 1399.0L1710.2 1397.7L1715.2 1396.8L1720.3 1396.2L1725.3 1395.8L1730.4 1395.9L1735.4 1396.8L1740.4 1397.7L1745.5 1398.3L1750.5 1398.5L1755.6 1398.2L1760.6 1397.7L1765.7 1397.3L1770.7 1397.2L1775.8 1397.1L1780.8 1397.1L1785.9 1396.9L1790.9 1396.5L1796.0 1396.0L1801.0 1395.1L1806.1 1394.2L1811.1 1393.1L1816.2 1392.0L1821.2 1391.0L1826.2 1390.2L1831.3 1389.9L1836.3 1390.0L1841.4 1390.1L1846.4 1390.1L1851.5 1390.1L1856.5 1390.0L1861.6 1390.0L1866.6 1390.6L1871.7 1390.9L1876.7 1390.2L1881.8 1389.5L1886.8 1388.6L1891.9 1386.8L1896.9 1385.3L1901.9 1384.7L1907.0 1384.2L1912.0 1383.6L1917.1 1381.9L1922.1 1380.8L1927.2 1379.5L1932.2 1376.8L1937.3 1372.9L1942.3 1367.9L1947.4 1361.8L1952.4 1353.4L1957.5 1342.4L1962.5 1327.1L1967.6 1306.4L1972.6 1283.1L1977.7 1260.2L1982.7 1236.5L1987.7 1213.2L1992.8 1189.8L1997.8 1170.4L2002.9 1154.0L2007.9 1139.9L2013.0 1132.3L2018.0 1125.3L2023.1 1118.1L2028.1 1108.6L2033.2 1093.0L2038.2 1073.7L2043.3 1050.3L2048.3 1024.3L2053.4 992.5L2058.4 956.4L2063.2 929.9L2068.2 917.0L2073.7 920.9L2079.6 938.6L2083.6 970.2L2088.7 1009.4L2093.7 1051.4L2098.8 1089.8L2103.8 1132.0L2108.9 1175.1L2113.9 1209.1L2119.0 1236.4L2124.0 1256.2L2129.1 1272.5L2134.1 1282.8L2139.2 1291.2L2144.2 1299.2L2149.3 1306.2L2154.3 1312.8L2159.3 1320.2L2164.4 1328.0L2169.4 1336.5L2174.5 1343.7L2179.5 1350.6L2184.6 1358.0L2189.6 1364.0L2194.7 1369.1L2199.7 1371.8L2204.8 1374.1L2209.8 1376.0L2214.9 1376.6L2219.9 1376.3L2225.0 1374.7L2230.0 1373.3L2235.1 1372.6L2240.1 1373.4L2245.1 1375.2L2250.2 1377.4L2255.2 1379.1L2260.3 1380.5L2265.3 1381.1L2270.4 1381.2L2275.4 1381.2L2280.5 1382.0L2285.5 1382.1L2290.6 1381.5L2295.6 1380.6L2300.7 1379.3L2305.7 1377.9L2310.8 1376.2L2315.8 1374.8L2320.8 1374.5L2325.9 1374.9L2330.9 1376.0L2336.0 1376.8L2340.8 1377.6"/>
</g>
<g stroke="#000" stroke-width="4.4" fill="none" stroke-linecap="butt">
<path d="M245.0 82.8V1417.9"/>
<path d="M242.8 1417.9H2340.5"/>
</g>
<g stroke="#000" stroke-width="4.2" fill="none" stroke-linecap="round">
<path d="M214.3 84.9H245.0M214.3 205.0H245.0M214.3 325.1H245.0M214.3 445.1H245.0M214.3 565.2H245.0M214.3 685.3H245.0M214.3 805.4H245.0M214.3 925.5H245.0M214.3 1045.5H245.0M214.3 1165.6H245.0M214.3 1285.7H245.0M214.3 1405.8H245.0M245.0 1417.9V1430.9M375.8 1417.9V1444.0M506.6 1417.9V1430.9M637.5 1417.9V1444.0M768.4 1417.9V1430.9M899.2 1417.9V1444.0M1030.0 1417.9V1430.9M1160.9 1417.9V1444.0M1291.7 1417.9V1430.9M1422.6 1417.9V1444.0M1553.4 1417.9V1430.9M1684.3 1417.9V1444.0M1815.1 1417.9V1430.9M1946.0 1417.9V1444.0M2076.8 1417.9V1430.9M2207.7 1417.9V1444.0M2338.5 1417.9V1430.9"/>
</g>
<path d="M294.4 445.2V565.4" stroke="#000" stroke-width="4.4" stroke-linecap="round" fill="none"/>
<text transform="translate(0 1508.0) scale(1 1.030)" x="298.8 336.8 374.8 412.8" y="0" font-size="59.5">2200</text>
<text transform="translate(0 1508.0) scale(1 1.030)" x="560.5 599.8 636.5 674.5" y="0" font-size="59.5">2150</text>
<text transform="translate(0 1508.0) scale(1 1.030)" x="822.2 861.5 898.2 936.2" y="0" font-size="59.5">2100</text>
<text transform="translate(0 1508.0) scale(1 1.030)" x="1083.9 1121.9 1159.9 1197.9" y="0" font-size="59.5">2050</text>
<text transform="translate(0 1508.0) scale(1 1.030)" x="1345.6 1383.6 1421.6 1459.6" y="0" font-size="59.5">2000</text>
<text transform="translate(0 1508.0) scale(1 1.030)" x="1608.6 1645.3 1683.3 1721.3" y="0" font-size="59.5">1950</text>
<text transform="translate(0 1508.0) scale(1 1.030)" x="1870.3 1907.0 1945.0 1983.0" y="0" font-size="59.5">1900</text>
<text transform="translate(0 1508.0) scale(1 1.030)" x="2132.0 2168.7 2206.7 2244.7" y="0" font-size="59.5">1850</text>
<text transform="translate(0 539.6) scale(1 1.025)" x="351.8 404.9 429.9" y="0" font-size="83.5">0.2</text>
<text transform="translate(0 885.9) scale(1 1.010)" x="1194.3 1242.1 1288.3" y="0" font-size="72.5">250</text>
<text x="1356.7" y="847.4" font-size="43.0">o</text>
<text transform="translate(0 885.9) scale(1 1.030)" x="1383.2" y="0" font-size="72.5">C</text>
<text transform="translate(0 1082.3) scale(1 1.010)" x="1199.5 1246.6 1292.3" y="0" font-size="72.5">200</text>
<text x="1360.6" y="1043.8" font-size="43.0">o</text>
<text transform="translate(0 1082.3) scale(1 1.030)" x="1388.2" y="0" font-size="72.5">C</text>
<text transform="translate(0 1228.8) scale(1 1.010)" x="1202.1 1247.2 1292.3" y="0" font-size="72.5">150</text>
<text x="1360.6" y="1190.3" font-size="43.0">o</text>
<text transform="translate(0 1228.8) scale(1 1.030)" x="1388.2" y="0" font-size="72.5">C</text>
<text transform="translate(0 1315.6) scale(1 1.010)" x="1205.7 1250.9 1297.3" y="0" font-size="72.5">100</text>
<text x="1365.8" y="1277.1" font-size="43.0">o</text>
<text transform="translate(0 1315.6) scale(1 1.030)" x="1392.8" y="0" font-size="72.5">C</text>
<text transform="translate(0 1398.8) scale(1 1.034)" x="1220.6 1279.5" y="0" font-size="72.5">RT</text>
<text x="909.6 998.2 1048.8 1092.7 1141.9 1191.2 1241.0 1316.5 1365.8 1415.3 1445.7 1475.4 1519.4" y="1640.8" font-size="77.5">Wavenumber(cm</text>
<text x="1595.8 1614.2" y="1598.5" font-size="47.0">-1</text>
<text x="1647.3" y="1640.8" font-size="77.5">)</text>
<text transform="translate(79.4 1030) rotate(-90)" x="0.0 51.5 94.4 133.0 175.9 201.6 244.6 287.5 330.4 369.0 411.9 437.6 480.6 502.0 548.4" y="0" font-size="77.2">Absorbance(a.u)</text>
</svg></body></html>
